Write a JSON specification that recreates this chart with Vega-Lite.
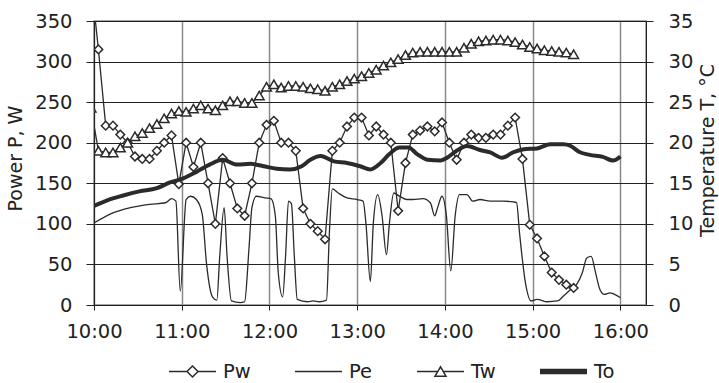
{
  "$schema": "https://vega.github.io/schema/vega-lite/v6.json",
  "width": 552,
  "height": 284,
  "autosize": {"type": "none"},
  "padding": {"left": 94, "top": 21, "right": 73, "bottom": 78},
  "background": "white",
  "config": {
    "view": {"stroke": "#8a8a8a", "strokeWidth": 1.5},
    "axis": {"labelFont": "DejaVu Sans", "labelFontSize": 19.5, "labelColor": "#222", "titleFont": "DejaVu Sans", "titleFontSize": 19, "titleFontWeight": "normal", "titleColor": "#222", "domainColor": "#222", "tickColor": "#222", "labelOverlap": false, "labelFlush": false},
    "legend": {"labelFont": "DejaVu Sans", "labelFontSize": 19.5, "labelColor": "#222"}
  },
  "data": {
    "format": {"parse": {"t": "date:'%H:%M'"}},
    "values": [
      {"s":"Pw","t":"09:58","v":401},{"s":"Pw","t":"10:03","v":315},{"s":"Pw","t":"10:08","v":221},{"s":"Pw","t":"10:13","v":221},{"s":"Pw","t":"10:18","v":210},{"s":"Pw","t":"10:23","v":200},{"s":"Pw","t":"10:28","v":183},{"s":"Pw","t":"10:33","v":180},{"s":"Pw","t":"10:38","v":180},{"s":"Pw","t":"10:43","v":190},{"s":"Pw","t":"10:48","v":200},{"s":"Pw","t":"10:53","v":209},{"s":"Pw","t":"10:58","v":149},{"s":"Pw","t":"11:03","v":200},{"s":"Pw","t":"11:08","v":170},{"s":"Pw","t":"11:13","v":200},{"s":"Pw","t":"11:18","v":150},{"s":"Pw","t":"11:23","v":100},{"s":"Pw","t":"11:28","v":181},{"s":"Pw","t":"11:33","v":150},{"s":"Pw","t":"11:38","v":119},{"s":"Pw","t":"11:43","v":110},{"s":"Pw","t":"11:48","v":150},{"s":"Pw","t":"11:53","v":200},{"s":"Pw","t":"11:58","v":222},{"s":"Pw","t":"12:03","v":227},{"s":"Pw","t":"12:08","v":200},{"s":"Pw","t":"12:13","v":200},{"s":"Pw","t":"12:18","v":190},{"s":"Pw","t":"12:23","v":119},{"s":"Pw","t":"12:28","v":100},{"s":"Pw","t":"12:33","v":91},{"s":"Pw","t":"12:38","v":81},{"s":"Pw","t":"12:43","v":190},{"s":"Pw","t":"12:48","v":200},{"s":"Pw","t":"12:53","v":220},{"s":"Pw","t":"12:58","v":231},{"s":"Pw","t":"13:03","v":231},{"s":"Pw","t":"13:08","v":209},{"s":"Pw","t":"13:13","v":220},{"s":"Pw","t":"13:18","v":210},{"s":"Pw","t":"13:23","v":200},{"s":"Pw","t":"13:28","v":116},{"s":"Pw","t":"13:33","v":175},{"s":"Pw","t":"13:38","v":210},{"s":"Pw","t":"13:43","v":215},{"s":"Pw","t":"13:48","v":220},{"s":"Pw","t":"13:53","v":214},{"s":"Pw","t":"13:58","v":225},{"s":"Pw","t":"14:03","v":200},{"s":"Pw","t":"14:08","v":179},{"s":"Pw","t":"14:13","v":200},{"s":"Pw","t":"14:18","v":210},{"s":"Pw","t":"14:23","v":206},{"s":"Pw","t":"14:28","v":206},{"s":"Pw","t":"14:33","v":210},{"s":"Pw","t":"14:38","v":210},{"s":"Pw","t":"14:43","v":221},{"s":"Pw","t":"14:48","v":231},{"s":"Pw","t":"14:53","v":180},{"s":"Pw","t":"14:58","v":99},{"s":"Pw","t":"15:03","v":82},{"s":"Pw","t":"15:08","v":60},{"s":"Pw","t":"15:13","v":40},{"s":"Pw","t":"15:18","v":31},{"s":"Pw","t":"15:23","v":25},{"s":"Pw","t":"15:28","v":21},
      {"s":"Tw","t":"09:58","v":24.3},{"s":"Tw","t":"10:03","v":19.0},{"s":"Tw","t":"10:08","v":18.8},{"s":"Tw","t":"10:13","v":18.8},{"s":"Tw","t":"10:18","v":19.4},{"s":"Tw","t":"10:23","v":20.0},{"s":"Tw","t":"10:28","v":20.8},{"s":"Tw","t":"10:33","v":21.2},{"s":"Tw","t":"10:38","v":21.8},{"s":"Tw","t":"10:43","v":22.3},{"s":"Tw","t":"10:48","v":23.0},{"s":"Tw","t":"10:53","v":23.6},{"s":"Tw","t":"10:58","v":23.9},{"s":"Tw","t":"11:03","v":23.8},{"s":"Tw","t":"11:08","v":24.2},{"s":"Tw","t":"11:13","v":24.6},{"s":"Tw","t":"11:18","v":24.2},{"s":"Tw","t":"11:23","v":24.0},{"s":"Tw","t":"11:28","v":24.6},{"s":"Tw","t":"11:33","v":25.1},{"s":"Tw","t":"11:38","v":25.1},{"s":"Tw","t":"11:43","v":24.9},{"s":"Tw","t":"11:48","v":24.9},{"s":"Tw","t":"11:53","v":25.8},{"s":"Tw","t":"11:58","v":26.9},{"s":"Tw","t":"12:03","v":27.2},{"s":"Tw","t":"12:08","v":26.8},{"s":"Tw","t":"12:13","v":27.0},{"s":"Tw","t":"12:18","v":27.0},{"s":"Tw","t":"12:23","v":26.9},{"s":"Tw","t":"12:28","v":26.7},{"s":"Tw","t":"12:33","v":26.6},{"s":"Tw","t":"12:38","v":26.4},{"s":"Tw","t":"12:43","v":26.9},{"s":"Tw","t":"12:48","v":27.2},{"s":"Tw","t":"12:53","v":27.6},{"s":"Tw","t":"12:58","v":27.9},{"s":"Tw","t":"13:03","v":28.2},{"s":"Tw","t":"13:08","v":28.6},{"s":"Tw","t":"13:13","v":29.0},{"s":"Tw","t":"13:18","v":29.5},{"s":"Tw","t":"13:23","v":29.9},{"s":"Tw","t":"13:28","v":30.3},{"s":"Tw","t":"13:33","v":30.8},{"s":"Tw","t":"13:38","v":31.1},{"s":"Tw","t":"13:43","v":31.2},{"s":"Tw","t":"13:48","v":31.2},{"s":"Tw","t":"13:53","v":31.2},{"s":"Tw","t":"13:58","v":31.2},{"s":"Tw","t":"14:03","v":31.2},{"s":"Tw","t":"14:08","v":31.2},{"s":"Tw","t":"14:13","v":31.7},{"s":"Tw","t":"14:18","v":32.2},{"s":"Tw","t":"14:23","v":32.5},{"s":"Tw","t":"14:28","v":32.6},{"s":"Tw","t":"14:33","v":32.7},{"s":"Tw","t":"14:38","v":32.7},{"s":"Tw","t":"14:43","v":32.6},{"s":"Tw","t":"14:48","v":32.4},{"s":"Tw","t":"14:53","v":32.1},{"s":"Tw","t":"14:58","v":31.8},{"s":"Tw","t":"15:03","v":31.6},{"s":"Tw","t":"15:08","v":31.4},{"s":"Tw","t":"15:13","v":31.3},{"s":"Tw","t":"15:18","v":31.2},{"s":"Tw","t":"15:23","v":31.1},{"s":"Tw","t":"15:28","v":30.9},
      {"s":"Pe","t":"10:00","v":101},{"s":"Pe","t":"10:11","v":112},{"s":"Pe","t":"10:25","v":120},{"s":"Pe","t":"10:38","v":124},{"s":"Pe","t":"10:49","v":126},{"s":"Pe","t":"10:53","v":131},{"s":"Pe","t":"10:56","v":128},{"s":"Pe","t":"10:59","v":17},{"s":"Pe","t":"11:03","v":130},{"s":"Pe","t":"11:06","v":134},{"s":"Pe","t":"11:10","v":130},{"s":"Pe","t":"11:14","v":112},{"s":"Pe","t":"11:17","v":50},{"s":"Pe","t":"11:21","v":10},{"s":"Pe","t":"11:24","v":6},{"s":"Pe","t":"11:26","v":60},{"s":"Pe","t":"11:29","v":120},{"s":"Pe","t":"11:31","v":60},{"s":"Pe","t":"11:34","v":5},{"s":"Pe","t":"11:40","v":3},{"s":"Pe","t":"11:43","v":4},{"s":"Pe","t":"11:46","v":70},{"s":"Pe","t":"11:48","v":120},{"s":"Pe","t":"11:51","v":134},{"s":"Pe","t":"11:57","v":132},{"s":"Pe","t":"12:01","v":131},{"s":"Pe","t":"12:04","v":110},{"s":"Pe","t":"12:06","v":40},{"s":"Pe","t":"12:09","v":10},{"s":"Pe","t":"12:11","v":60},{"s":"Pe","t":"12:13","v":128},{"s":"Pe","t":"12:15","v":125},{"s":"Pe","t":"12:17","v":60},{"s":"Pe","t":"12:19","v":7},{"s":"Pe","t":"12:26","v":4},{"s":"Pe","t":"12:30","v":5},{"s":"Pe","t":"12:34","v":4},{"s":"Pe","t":"12:39","v":6},{"s":"Pe","t":"12:41","v":90},{"s":"Pe","t":"12:43","v":143},{"s":"Pe","t":"12:47","v":138},{"s":"Pe","t":"12:53","v":132},{"s":"Pe","t":"13:00","v":130},{"s":"Pe","t":"13:04","v":128},{"s":"Pe","t":"13:06","v":100},{"s":"Pe","t":"13:09","v":29},{"s":"Pe","t":"13:11","v":100},{"s":"Pe","t":"13:14","v":136},{"s":"Pe","t":"13:17","v":110},{"s":"Pe","t":"13:20","v":62},{"s":"Pe","t":"13:22","v":100},{"s":"Pe","t":"13:25","v":138},{"s":"Pe","t":"13:29","v":134},{"s":"Pe","t":"13:34","v":130},{"s":"Pe","t":"13:38","v":130},{"s":"Pe","t":"13:45","v":131},{"s":"Pe","t":"13:50","v":126},{"s":"Pe","t":"13:53","v":110},{"s":"Pe","t":"13:55","v":120},{"s":"Pe","t":"13:58","v":134},{"s":"Pe","t":"14:01","v":110},{"s":"Pe","t":"14:04","v":42},{"s":"Pe","t":"14:07","v":110},{"s":"Pe","t":"14:10","v":136},{"s":"Pe","t":"14:15","v":136},{"s":"Pe","t":"14:19","v":128},{"s":"Pe","t":"14:24","v":130},{"s":"Pe","t":"14:31","v":128},{"s":"Pe","t":"14:40","v":128},{"s":"Pe","t":"14:47","v":127},{"s":"Pe","t":"14:49","v":126},{"s":"Pe","t":"14:51","v":89},{"s":"Pe","t":"14:55","v":28},{"s":"Pe","t":"14:59","v":5},{"s":"Pe","t":"15:03","v":7},{"s":"Pe","t":"15:10","v":4},{"s":"Pe","t":"15:17","v":5},{"s":"Pe","t":"15:21","v":11},{"s":"Pe","t":"15:26","v":19},{"s":"Pe","t":"15:30","v":25},{"s":"Pe","t":"15:34","v":40},{"s":"Pe","t":"15:37","v":58},{"s":"Pe","t":"15:40","v":60},{"s":"Pe","t":"15:43","v":40},{"s":"Pe","t":"15:46","v":19},{"s":"Pe","t":"15:49","v":13},{"s":"Pe","t":"15:53","v":15},{"s":"Pe","t":"15:56","v":13},{"s":"Pe","t":"16:00","v":9},
      {"s":"To","t":"10:00","v":12.2},{"s":"To","t":"10:09","v":12.9},{"s":"To","t":"10:20","v":13.5},{"s":"To","t":"10:31","v":14.0},{"s":"To","t":"10:43","v":14.4},{"s":"To","t":"10:52","v":15.1},{"s":"To","t":"11:01","v":15.6},{"s":"To","t":"11:10","v":16.4},{"s":"To","t":"11:19","v":17.3},{"s":"To","t":"11:28","v":17.9},{"s":"To","t":"11:38","v":17.3},{"s":"To","t":"11:47","v":17.4},{"s":"To","t":"11:56","v":17.1},{"s":"To","t":"12:05","v":16.8},{"s":"To","t":"12:14","v":16.7},{"s":"To","t":"12:22","v":17.1},{"s":"To","t":"12:28","v":17.9},{"s":"To","t":"12:35","v":18.35},{"s":"To","t":"12:44","v":17.7},{"s":"To","t":"12:53","v":17.5},{"s":"To","t":"13:02","v":17.1},{"s":"To","t":"13:09","v":16.7},{"s":"To","t":"13:16","v":17.5},{"s":"To","t":"13:22","v":18.6},{"s":"To","t":"13:29","v":19.4},{"s":"To","t":"13:35","v":19.4},{"s":"To","t":"13:41","v":18.6},{"s":"To","t":"13:48","v":17.9},{"s":"To","t":"13:57","v":17.8},{"s":"To","t":"14:01","v":18.1},{"s":"To","t":"14:08","v":19.0},{"s":"To","t":"14:15","v":19.6},{"s":"To","t":"14:24","v":19.1},{"s":"To","t":"14:31","v":18.8},{"s":"To","t":"14:39","v":18.15},{"s":"To","t":"14:47","v":18.85},{"s":"To","t":"14:54","v":19.2},{"s":"To","t":"15:03","v":19.3},{"s":"To","t":"15:12","v":19.8},{"s":"To","t":"15:21","v":19.8},{"s":"To","t":"15:26","v":19.6},{"s":"To","t":"15:32","v":18.85},{"s":"To","t":"15:39","v":18.5},{"s":"To","t":"15:48","v":18.25},{"s":"To","t":"15:55","v":17.8},{"s":"To","t":"16:00","v":18.3}
    ]
  },
  "encoding": {
    "x": {
      "field": "t", "type": "temporal",
      "scale": {"domain": [{"year": 1900, "month": 1, "date": 1, "hours": 10, "minutes": 0}, {"year": 1900, "month": 1, "date": 1, "hours": 16, "minutes": 17, "seconds": 30}], "nice": false},
      "axis": {
        "title": null, "format": "%H:%M",
        "values": [{"year": 1900, "month": 1, "date": 1, "hours": 10}, {"year": 1900, "month": 1, "date": 1, "hours": 11}, {"year": 1900, "month": 1, "date": 1, "hours": 12}, {"year": 1900, "month": 1, "date": 1, "hours": 13}, {"year": 1900, "month": 1, "date": 1, "hours": 14}, {"year": 1900, "month": 1, "date": 1, "hours": 15}, {"year": 1900, "month": 1, "date": 1, "hours": 16}],
        "grid": true, "gridColor": "#8a8a8a", "gridWidth": 1.5, "tickSize": 5, "labelPadding": 12
      }
    }
  },
  "layer": [
    {
      "encoding": {
        "y": {"field": "v", "type": "quantitative", "scale": {"domain": [0, 350], "nice": false},
          "axis": {"values": [0, 50, 100, 150, 200, 250, 300, 350], "title": "Power P, W", "grid": true, "gridColor": "#222", "gridWidth": 1, "tickSize": 8, "labelPadding": 14, "titleAngle": 270, "titleBaseline": "middle", "titleX": -79, "titleY": 137}}
      },
      "layer": [
        {"transform": [{"filter": "datum.s === 'Pe'"}], "mark": {"type": "line", "interpolate": "monotone", "color": "#2b2b2b", "strokeWidth": 1.3, "clip": true}},
        {"transform": [{"filter": "datum.s === 'Pw'"}], "mark": {"type": "line", "color": "#2b2b2b", "strokeWidth": 1.3, "clip": true}},
        {"transform": [{"filter": "datum.s === 'Pw'"}], "mark": {"type": "point", "shape": "diamond", "size": 75, "filled": true, "fill": "white", "stroke": "#2b2b2b", "strokeWidth": 1.5, "opacity": 1, "clip": true}},
        {"transform": [{"filter": "datum.v > 350"}],
          "mark": {"type": "point", "fill": "white", "stroke": "#2b2b2b", "strokeWidth": 1.3, "opacity": 1, "clip": true},
          "encoding": {"shape": {"field": "s", "type": "nominal",
            "scale": {"domain": ["Pw", "Pe", "Tw", "To"], "range": ["M-1,0H-0.234M-0.234,0L0,-0.234L0.234,0L0,0.234ZM0.234,0H1", "M-1,0H1", "M-1,0H-0.117M0,-0.2L-0.234,0.2L0.234,0.2ZM0.117,0H1", "M-1,-0.08H1M-1,-0.04H1M-1,0H1M-1,0.04H1M-1,0.08H1"]},
            "legend": {"title": null, "orient": "none", "direction": "horizontal", "legendX": 74, "legendY": 326, "symbolSize": 2209, "columnPadding": 41, "labelOffset": 6}}}}
      ]
    },
    {
      "encoding": {
        "y": {"field": "v", "type": "quantitative", "scale": {"domain": [0, 35], "nice": false},
          "axis": {"orient": "right", "values": [0, 5, 10, 15, 20, 25, 30, 35], "title": "Temperature T, °C", "grid": false, "tickSize": 7, "labelPadding": 15, "titleAngle": 270, "titleBaseline": "middle", "titleX": 61, "titleY": 129}}
      },
      "layer": [
        {"transform": [{"filter": "datum.s === 'To'"}], "mark": {"type": "line", "interpolate": "monotone", "color": "#2b2b2b", "strokeWidth": 4, "clip": true}},
        {"transform": [{"filter": "datum.s === 'Tw'"}], "mark": {"type": "line", "color": "#2b2b2b", "strokeWidth": 1.3, "clip": true}},
        {"transform": [{"filter": "datum.s === 'Tw'"}], "mark": {"type": "point", "shape": "triangle-up", "size": 95, "filled": true, "fill": "white", "stroke": "#2b2b2b", "strokeWidth": 1.5, "opacity": 1, "clip": true}}
      ]
    }
  ],
  "resolve": {"scale": {"y": "independent"}}
}
